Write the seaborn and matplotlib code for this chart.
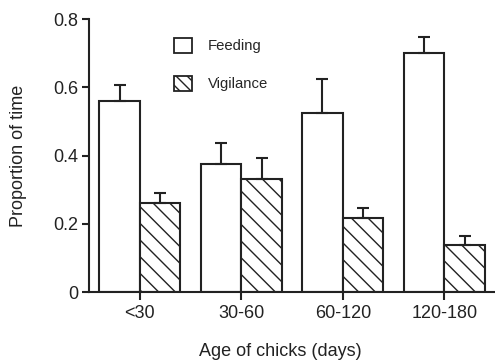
import matplotlib
matplotlib.use("Agg")
import matplotlib.pyplot as plt
import matplotlib.patches as mpatches
import seaborn as sns
import pandas as pd
import numpy as np

categories = ["<30", "30-60", "60-120", "120-180"]
feeding = [0.56, 0.375, 0.525, 0.70]
feeding_err = [0.047, 0.063, 0.098, 0.047]
vigilance = [0.262, 0.33, 0.217, 0.137]
vigilance_err = [0.028, 0.063, 0.028, 0.028]
yticks = [0, 0.2, 0.4, 0.6, 0.8]
ytick_labels = ["0", "0.2", "0.4", "0.6", "0.8"]

sns.set_theme(style="ticks")
plt.rcParams["font.family"] = ["Liberation Sans", "DejaVu Sans"]
plt.rcParams["hatch.linewidth"] = 1.0
plt.rcParams["hatch.color"] = "#222222"

df = pd.DataFrame({
    "age": categories * 2,
    "value": feeding + vigilance,
    "behaviour": ["Feeding"] * 4 + ["Vigilance"] * 4,
})

fig = plt.figure(figsize=(4.95, 3.62), dpi=100)
ax = fig.add_axes([0.18, 0.193, 0.82, 0.7545])

sns.barplot(data=df, x="age", y="value", hue="behaviour", order=categories,
            hue_order=["Feeding", "Vigilance"],
            palette={"Feeding": "white", "Vigilance": "white"},
            edgecolor="#222222", linewidth=1.5, width=0.8,
            errorbar=None, legend=False, ax=ax)

errs = [feeding_err, vigilance_err]
bar_containers = list(ax.containers)
for i, cont in enumerate(bar_containers):
    xs, hs = [], []
    for p in cont.patches:
        if i == 1:
            p.set_hatch("\\\\")
        xs.append(p.get_x() + p.get_width() / 2)
        hs.append(p.get_height())
    ax.errorbar(xs, hs, yerr=[np.zeros(len(hs)), errs[i]], fmt="none",
                ecolor="#222222", elinewidth=1.5, capsize=4, capthick=1.5,
                zorder=1)

ax.set_xlim(-0.5, 3.5)
ax.set_ylim(0, 0.8)
ax.set_yticks(yticks)
ax.set_yticklabels(ytick_labels)
ax.set_xlabel("Age of chicks (days)", fontsize=13, color="#222222", va="top")
ax.set_ylabel("Proportion of time", fontsize=13, color="#222222")
ax.xaxis.set_label_coords(0.47, -0.185)
ax.yaxis.set_label_coords(-0.152, 0.5)
ax.tick_params(axis="both", labelsize=13, colors="#222222", width=1.5,
               length=5, direction="out")
ax.tick_params(axis="x", length=6, pad=3)
ax.tick_params(axis="y", pad=2.5)
for s in ["top", "right"]:
    ax.spines[s].set_visible(False)
for s in ["left", "bottom"]:
    ax.spines[s].set_linewidth(1.5)
    ax.spines[s].set_color("#222222")

handles = [mpatches.Patch(facecolor="white", edgecolor="#222222", linewidth=1.3, label="Feeding"),
           mpatches.Patch(facecolor="white", edgecolor="#222222", linewidth=1.3, hatch="\\\\\\", label="Vigilance")]
ax.legend(handles=handles, loc="upper left", bbox_to_anchor=(0.209, 0.932),
          frameon=False, fontsize=10.7, borderpad=0, borderaxespad=0,
          handlelength=1.2, handleheight=1.2,
          labelspacing=1.5, handletextpad=1.1)

fig.savefig("out.png", dpi=100)
